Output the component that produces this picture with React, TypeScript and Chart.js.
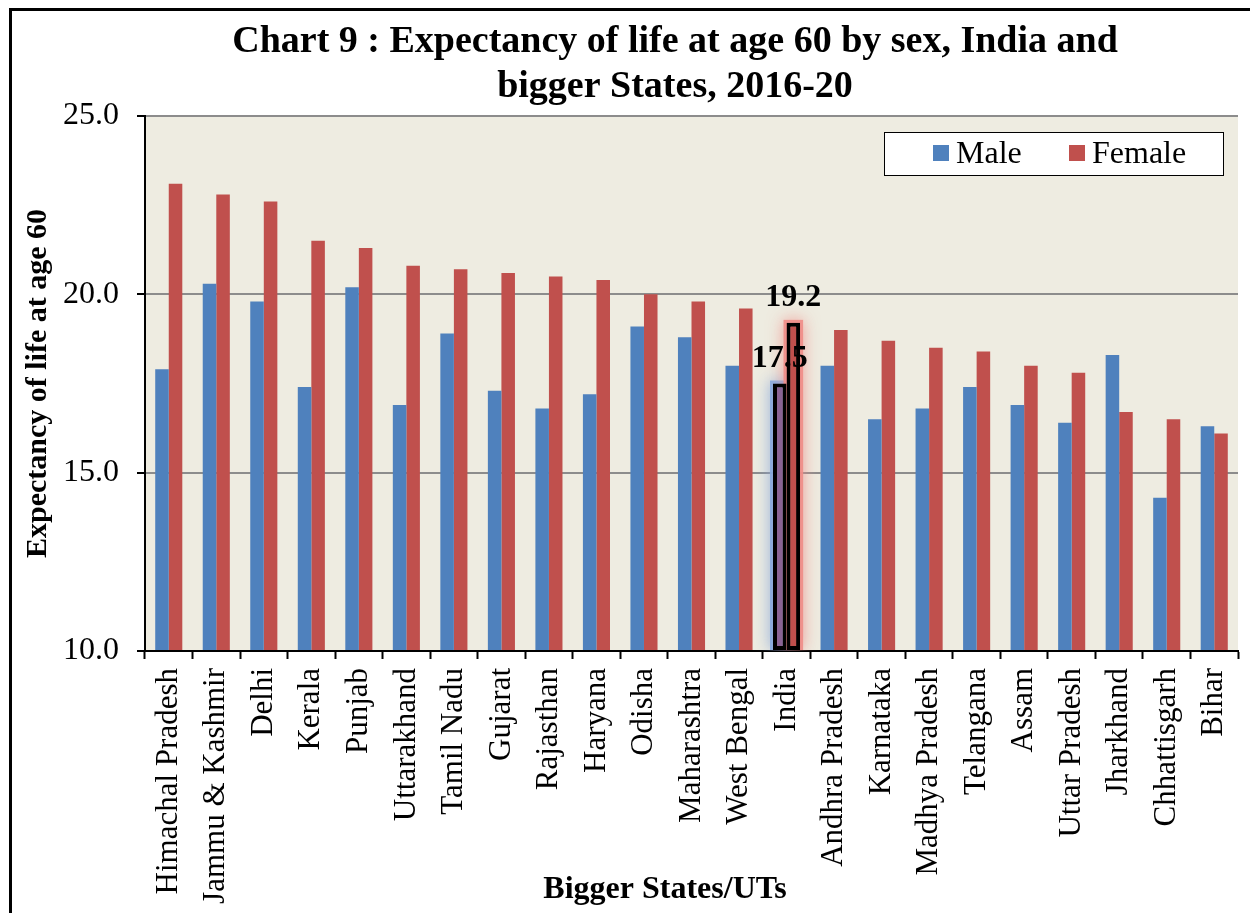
import React, { useEffect, useRef } from 'react';
import { Chart, registerables } from 'chart.js';

Chart.register(...registerables);

const FONT = "'Liberation Serif', 'Times New Roman', serif";

const titleLines = ['Chart 9 : Expectancy of life at age 60 by sex, India and', 'bigger States, 2016-20'];
const yAxisTitle = 'Expectancy of life at age 60';
const xAxisTitle = 'Bigger States/UTs';

const categories = [
  'Himachal Pradesh', 'Jammu & Kashmir', 'Delhi', 'Kerala', 'Punjab', 'Uttarakhand',
  'Tamil Nadu', 'Gujarat', 'Rajasthan', 'Haryana', 'Odisha', 'Maharashtra',
  'West Bengal', 'India', 'Andhra Pradesh', 'Karnataka', 'Madhya Pradesh', 'Telangana',
  'Assam', 'Uttar Pradesh', 'Jharkhand', 'Chhattisgarh', 'Bihar',
];

const maleValues = [17.9, 20.3, 19.8, 17.4, 20.2, 16.9, 18.9, 17.3, 16.8, 17.2, 19.1, 18.8, 18.0, 17.5, 18.0, 16.5, 16.8, 17.4, 16.9, 16.4, 18.3, 14.3, 16.3];
const femaleValues = [23.1, 22.8, 22.6, 21.5, 21.3, 20.8, 20.7, 20.6, 20.5, 20.4, 20.0, 19.8, 19.6, 19.2, 19.0, 18.7, 18.5, 18.4, 18.0, 17.8, 16.7, 16.5, 16.1];

const yTicks = [10, 15, 20, 25];
const highlightCategory = 'India';

const MALE = '#4F81BD';
const FEMALE = '#C0504D';
const MALE_HL = '#8A6394';
const FEMALE_HL = '#C0504D';
const GLOWS = ['rgba(130,170,225,0.9)', 'rgba(240,140,135,0.9)'];

export default function App() {
  const ref = useRef<HTMLCanvasElement>(null);

  useEffect(() => {
    if (!ref.current) return;
    const hl = categories.indexOf(highlightCategory);

    const custom = {
      id: 'custom',
      beforeDraw(chart: any) {
        const { ctx, chartArea: a } = chart;
        ctx.save();
        ctx.fillStyle = '#EEECE1';
        ctx.fillRect(a.left, a.top, a.right - a.left, a.bottom - a.top);
        ctx.restore();
      },
      beforeDatasetsDraw(chart: any) {
        const { ctx, chartArea: a } = chart;
        chart.data.datasets.forEach((_: any, di: number) => {
          const el = chart.getDatasetMeta(di).data[hl];
          if (!el) return;
          const { x, y, base, width } = el.getProps(['x', 'y', 'base', 'width'], true);
          const b = Math.min(base, a.bottom);
          ctx.save();
          ctx.beginPath();
          ctx.rect(a.left, a.top - 40, a.right - a.left, a.bottom - a.top + 40);
          ctx.clip();
          ctx.shadowColor = GLOWS[di];
          ctx.shadowBlur = 16;
          ctx.fillStyle = GLOWS[di];
          ctx.fillRect(x - width / 2 - 3, y - 3, width + 6, b - y + 3);
          ctx.restore();
        });
      },
      afterDatasetsDraw(chart: any) {
        const { ctx } = chart;
        ctx.save();
        ctx.font = `bold 32px ${FONT}`;
        ctx.fillStyle = '#000';
        ctx.textAlign = 'center';
        ctx.textBaseline = 'alphabetic';
        chart.data.datasets.forEach((ds: any, di: number) => {
          const el = chart.getDatasetMeta(di).data[hl];
          if (!el) return;
          const { x, y } = el.getProps(['x', 'y'], true);
          ctx.fillText(Number(ds.data[hl]).toFixed(1), x, y - 17);
        });
        ctx.restore();
      },
      afterDraw(chart: any) {
        const { ctx, chartArea: a } = chart;
        // title
        ctx.save();
        ctx.font = `bold 38px ${FONT}`;
        ctx.fillStyle = '#000';
        ctx.textAlign = 'center';
        ctx.textBaseline = 'middle';
        titleLines.forEach((t, i) => ctx.fillText(t, a.left + 530, 42 + i * 45));
        // x axis title
        ctx.font = `bold 32px ${FONT}`;
        ctx.textBaseline = 'alphabetic';
        ctx.fillText(xAxisTitle, a.left + 520, 898);
        ctx.restore();
        // legend
        const w = 339, h = 43;
        const bx = a.right - 15 - w;
        const by = a.top + 16;
        ctx.save();
        ctx.fillStyle = '#fff';
        ctx.fillRect(bx, by, w, h);
        ctx.strokeStyle = '#000';
        ctx.lineWidth = 1;
        ctx.strokeRect(bx + 0.5, by + 0.5, w, h);
        ctx.font = `32px ${FONT}`;
        ctx.textBaseline = 'middle';
        ctx.textAlign = 'left';
        const items = [
          { label: chart.data.datasets[0].label, color: MALE, off: 49 },
          { label: chart.data.datasets[1].label, color: FEMALE, off: 185 },
        ];
        items.forEach((it) => {
          ctx.fillStyle = it.color;
          ctx.fillRect(bx + it.off, by + 13, 16, 16);
          ctx.fillStyle = '#000';
          ctx.fillText(it.label, bx + it.off + 23, by + h / 2 + 1);
        });
        ctx.restore();
      },
    };

    const barStyle = (normal: string, hlColor: string) => ({
      backgroundColor: (c: any) => (c.dataIndex === hl ? hlColor : normal),
      borderColor: (c: any) => (c.dataIndex === hl ? '#000' : 'rgba(0,0,0,0)'),
      borderWidth: (c: any) => (c.dataIndex === hl ? 4 : 0),
      borderSkipped: false,
      base: yTicks[0],
      categoryPercentage: 0.57,
      barPercentage: 1,
    });

    const chart = new Chart(ref.current, {
      type: 'bar',
      data: {
        labels: categories,
        datasets: [
          { label: 'Male', data: maleValues, ...barStyle(MALE, MALE_HL) },
          { label: 'Female', data: femaleValues, ...barStyle(FEMALE, FEMALE_HL) },
        ],
      },
      options: {
        responsive: false,
        animation: false,
        layout: { padding: { top: 116, left: 16, right: 12, bottom: 0 } },
        plugins: {
          legend: { display: false },
          title: { display: false },
          tooltip: { enabled: false },
        },
        scales: {
          x: {
            afterFit: (s: any) => { s.height = 262; s.paddingLeft = 0; s.paddingRight = 0; },
            grid: {
              display: true,
              drawOnChartArea: false,
              offset: true,
              tickLength: 8,
              tickColor: '#000',
              tickWidth: 2,
            },
            border: { display: true, color: '#000', width: 2 },
            ticks: {
              autoSkip: false,
              minRotation: 90,
              maxRotation: 90,
              padding: 9,
              color: '#000',
              font: { family: FONT, size: 31 },
            },
            title: { display: false, text: xAxisTitle },
          },
          y: {
            min: yTicks[0],
            max: yTicks[yTicks.length - 1],
            afterFit: (s: any) => { s.width = 129; },
            afterBuildTicks: (s: any) => { s.ticks = yTicks.map((v) => ({ value: v })); },
            grid: {
              color: '#8C8C8C',
              lineWidth: 2,
              tickLength: 8,
              tickColor: '#000',
              tickWidth: 2,
            },
            border: { display: true, color: '#000', width: 2 },
            ticks: {
              padding: 18,
              color: '#000',
              font: { family: FONT, size: 32 },
              callback: (v: any) => Number(v).toFixed(1),
            },
            title: {
              display: true,
              text: yAxisTitle,
              color: '#000',
              font: { family: FONT, size: 30, weight: 'bold' },
              padding: 4,
            },
          },
        },
      },
      plugins: [custom],
    } as any);

    return () => chart.destroy();
  }, []);

  return (
    <div style={{ position: 'absolute', left: 0, top: 0, width: 1250, height: 913, overflow: 'hidden', background: '#fff' }}>
      <canvas ref={ref} width={1250} height={913} style={{ display: 'block' }} />
      <div
        style={{
          position: 'absolute', left: 9, top: 8, width: 1300, height: 1000,
          borderTop: '3px solid #000', borderLeft: '3px solid #000', pointerEvents: 'none',
        }}
      />
    </div>
  );
}
